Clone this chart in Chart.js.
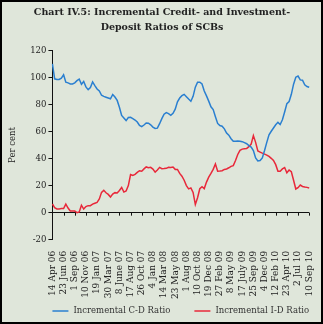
<!DOCTYPE html>
<html>
<head>
<meta charset="utf-8">
<script src="https://cdn.jsdelivr.net/npm/chart.js@4.4.1/dist/chart.umd.min.js"></script>
<style>
  html, body { margin: 0; padding: 0; background: #dfe6da; }
  #wrap { width: 323px; height: 324px; }
</style>
</head>
<body>
<div id="wrap"><canvas id="c" width="323" height="324"></canvas></div>
<script>
const titleLines = ["Chart IV.5: Incremental Credit- and Investment-", "Deposit Ratios of SCBs"];
const tickLabels = ["14 Apr 06","23 Jun 06","1 Sep 06","10 Nov 06","19 Jan 07","30 Mar 07","8 June 07","17 Aug 07","26 Oct 07","4 Jan 08","14 Mar 08","23 May 08","1 Aug 08","10 Oct 08","19 Dec 08","27 Feb 09","8 May 09","17 July 09","25 Sep 09","4 Dec 09","12 Feb 10","23 Apr 10","2 Jul 10","10 Sep 10"];
const seriesNames = ["Incremental C-D Ratio", "Incremental I-D Ratio"];
// fortnightly observations, 14 Apr 06 .. 10 Sep 10
const cdRatio = [
  110, 99, 98.5, 98.5, 99.5, 102, 96.5, 96, 95.2, 95.2,
  96, 97.6, 98.8, 95, 97, 93, 91, 92.6, 96.7, 94,
  91.5, 90, 86.8, 86, 85.4, 84.8, 84.2, 87.4, 85.5, 83,
  78, 71.9, 70, 68.1, 70.4, 70.5, 69.6, 68.5, 67, 64.5,
  63.6, 64.8, 66.3, 66.2, 65, 63.3, 62.3, 62.5, 65.8, 69.5,
  72.8, 74, 73.2, 72, 73.5, 76.5, 82, 84.8, 86.5, 87.5,
  85.8, 84, 82.4, 86, 92.8, 96.5, 96.5, 95.2, 90, 86.4,
  82.5, 78.3, 76.2, 71, 66, 64.4, 63.9, 62, 58.9, 57.3,
  54.7, 52.8, 52.8, 53, 52.8, 52.5, 51.8, 51, 49.6, 48.5,
  46, 40.5, 38.3, 38.6, 40.5, 46, 52, 57.6, 60.2, 62.6,
  65, 66.8, 65.2, 68.7, 74.5, 80.6, 82.2, 87.5, 95, 100.2,
  101, 98.2, 98, 94.5, 93.3, 92.8
];
const idRatio = [
  6.4, 3.7, 2.8, 2.8, 3, 3, 6.3, 3.4, 1.2, 1.2,
  1.2, 0, 0.5, 5.5, 2.7, 4.5, 5.2, 5.2, 6.3, 7,
  7.6, 10.1, 15, 16.5, 14.7, 13.5, 11.6, 13.7, 14.8, 14.5,
  16.4, 18.6, 15.2, 16, 20, 28.2, 27.5, 28.3, 29.8, 31,
  30.7, 32.4, 33.8, 33.2, 33.5, 32.2, 30, 31.6, 33.5, 32.5,
  32.6, 32.8, 33.6, 33.4, 33.7, 32, 32, 29, 27, 24,
  20, 17.6, 18.3, 15, 6, 11, 17.7, 19.2, 17.8, 22.6,
  26.3, 29, 32, 36, 30.7, 30.8, 31, 32, 32.3, 33.2,
  34.2, 34.8, 38.6, 43, 46.1, 47, 47.3, 47.5, 48.8, 50.7,
  57, 52, 45.6, 44.8, 44, 43.3, 42.6, 41.6, 40.2, 38.6,
  35.5, 30.6, 30.7, 32.4, 33.4, 29.5, 31.5, 30.3, 24, 17.5,
  18.5, 20.4, 19.4, 19, 18.7, 18.3
];
const tickEvery = 5;
const categories = cdRatio.map((_, i) => (i % tickEvery === 0 ? tickLabels[i / tickEvery] : ''));

const BG = '#dfe6da';
const serif = "'DejaVu Serif', serif";

const framePlugin = {
  id: 'frame',
  beforeDraw(chart) {
    const ctx = chart.ctx;
    ctx.save();
    ctx.fillStyle = BG;
    ctx.fillRect(0, 0, chart.width, chart.height);
    ctx.restore();
  },
  afterDraw(chart) {
    const ctx = chart.ctx;
    const x = chart.scales.x, y = chart.scales.y;
    const y0 = y.getPixelForValue(0);
    ctx.save();
    // small x ticks on the zero line
    ctx.strokeStyle = '#111';
    ctx.lineWidth = 1;
    ctx.beginPath();
    for (let i = 0; i < categories.length; i += tickEvery) {
      const px = Math.round(x.getPixelForValue(i)) + 0.5;
      ctx.moveTo(px, y0);
      ctx.lineTo(px, y0 + 3);
    }
    ctx.stroke();
    // legend
    ctx.font = "8.5px " + serif;
    ctx.textBaseline = 'middle';
    ctx.textAlign = 'left';
    const ly = chart.height - 13;
    let lx = chart.chartArea.left;
    chart.data.datasets.forEach((ds) => {
      ctx.strokeStyle = ds.borderColor;
      ctx.lineWidth = 1.5;
      ctx.beginPath();
      ctx.moveTo(lx, ly);
      ctx.lineTo(lx + 16, ly);
      ctx.stroke();
      ctx.fillStyle = '#333';
      ctx.fillText(ds.label, lx + 21, ly);
      lx += 21 + ctx.measureText(ds.label).width + 24;
    });
    // frame
    ctx.lineWidth = 2;
    ctx.strokeStyle = '#000';
    ctx.strokeRect(1, 1, chart.width - 2, chart.height - 2);
    ctx.restore();
  }
};

new Chart(document.getElementById('c'), {
  type: 'line',
  data: {
    labels: categories,
    datasets: [
      { label: seriesNames[0], data: cdRatio, borderColor: '#2a7fd0', backgroundColor: '#2a7fd0', borderWidth: 1.5, pointRadius: 0, tension: 0 },
      { label: seriesNames[1], data: idRatio, borderColor: '#e8283a', backgroundColor: '#e8283a', borderWidth: 1.5, pointRadius: 0, tension: 0 }
    ]
  },
  options: {
    responsive: false,
    animation: false,
    devicePixelRatio: 1,
    layout: { padding: { left: 8, right: 7, top: 0, bottom: 22 } },
    plugins: {
      title: {
        display: true,
        text: titleLines,
        color: '#222',
        font: { family: serif, size: 9.5, weight: 'bold', lineHeight: 1.6 },
        padding: { top: 5, bottom: 15 }
      },
      legend: { display: false },
      tooltip: { enabled: false }
    },
    scales: {
      x: {
        type: 'category',
        offset: false,
        grid: { display: false },
        border: { display: false },
        ticks: {
          autoSkip: false,
          minRotation: 90,
          maxRotation: 90,
          padding: 3,
          color: '#222',
          font: { family: serif, size: 9 },
          callback: (v, i) => categories[i]
        }
      },
      y: {
        min: -20,
        max: 120,
        ticks: { stepSize: 20, padding: 2, color: '#222', font: { family: serif, size: 8.5 } },
        grid: {
          color: (c) => (c.tick && c.tick.value === 0 ? '#111' : 'rgba(0,0,0,0)'),
          lineWidth: 1,
          drawTicks: true,
          tickLength: 4,
          tickColor: '#111'
        },
        border: { display: true, color: '#111', width: 1 },
        title: {
          display: true,
          text: 'Per cent',
          color: '#222',
          font: { family: serif, size: 8.5 },
          padding: { top: 0, bottom: 10 }
        }
      }
    }
  },
  plugins: [framePlugin]
});
</script>
</body>
</html>
